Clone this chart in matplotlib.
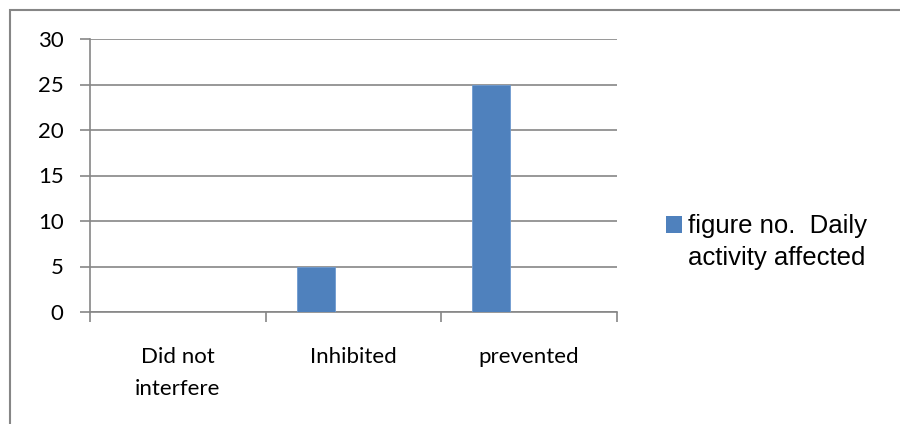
import matplotlib.pyplot as plt
from matplotlib.patches import Rectangle, Patch

# data
categorias = ['Did not\ninterfere', 'Inhibited', 'prevented']
valores = [0, 5, 25]
serie = 'figure no.  Daily\nactivity affected'
yticks = [0, 5, 10, 15, 20, 25, 30]

cinza = '#868686'
azul = '#4F81BD'

fig = plt.figure(figsize=(9, 4.24), dpi=100)
# moldura externa
fig.patches.append(Rectangle((10 / 900, -0.01), 0.995, 1 - 10 / 424 + 0.01,
                             transform=fig.transFigure, fill=False,
                             edgecolor=cinza, linewidth=1.5))

ax = fig.add_axes([90 / 900, 1 - 312 / 424, 527 / 900, 273 / 424])
largura = 38 / 175.7
pos = range(len(categorias))
ax.bar([p - largura for p in pos], valores, width=largura, color=azul,
       edgecolor='#6f9bd1', linewidth=0.6, zorder=3)

ax.set_xlim(-0.5, 2.5)
ax.set_ylim(0, 30)
ax.set_yticks(yticks)
ax.set_yticklabels([str(v) for v in yticks], fontsize=16, family='Lato')
ax.set_xticks([-0.5, 0.5, 1.5, 2.5])
ax.set_xticklabels([])
ax.set_xticks(list(pos), minor=True)
ax.set_xticklabels(categorias, minor=True, fontsize=16, family='Lato',
                   linespacing=1.75)
ax.tick_params(axis='x', which='minor', length=0, pad=25)
ax.tick_params(axis='x', which='major', length=7, color=cinza, width=1.2)
ax.tick_params(axis='y', length=7, color=cinza, width=1.2, pad=12)
ax.grid(axis='y', color=cinza, linewidth=1.2, zorder=0)
for lado in ['top', 'right']:
    ax.spines[lado].set_visible(False)
for lado in ['left', 'bottom']:
    ax.spines[lado].set_color(cinza)
    ax.spines[lado].set_linewidth(1.2)

leg = fig.legend(handles=[Patch(facecolor=azul, label=serie)], loc='center left',
                 bbox_to_anchor=(643 / 900, 1 - 242 / 424), frameon=False,
                 prop={'family': 'Liberation Sans', 'size': 18.5},
                 handlelength=0.6, handleheight=0.6, handletextpad=0.25)
for t in leg.get_texts():
    t.set_linespacing(1.4)
# quadrado alinhado com a primeira linha
h = leg.legend_handles[0]
h.set_y(h.get_y() + 13)

plt.savefig('out.png', format='png')
